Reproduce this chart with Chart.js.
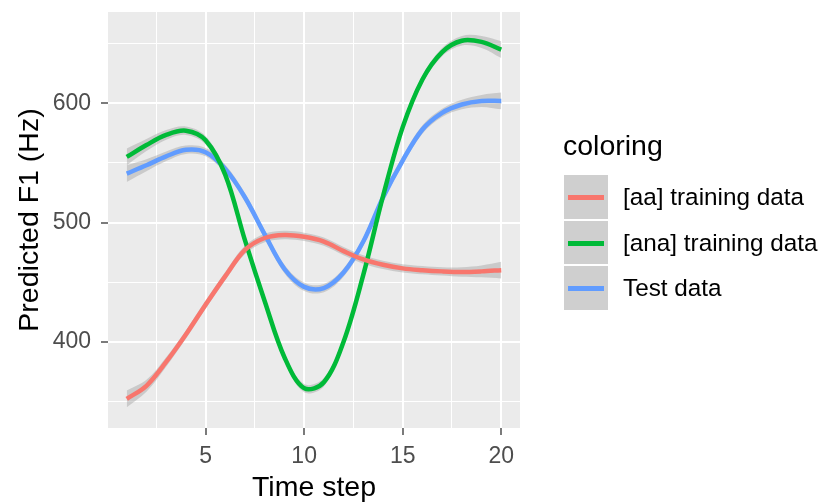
<!DOCTYPE html>
<html lang="en">
  <head>
    <meta charset="utf-8" />
    <title>Predicted F1 by time step</title>
    <style>
      body { margin: 0; background: #ffffff; }
      .wrap {
        position: relative;
        width: 822px;
        height: 503px;
        font-family: "Liberation Sans", Arial, sans-serif;
      }
      .chartBox { position: absolute; left: 0; top: 0; width: 822px; height: 503px; }
      .legendTitle {
        position: absolute;
        left: 563px;
        top: 131px;
        font-size: 28.5px;
        line-height: 1;
        color: #000000;
      }
      .legendRow {
        position: absolute;
        left: 563px;
        height: 45.5px;
        width: 260px;
      }
      .legendKey {
        position: absolute;
        left: 0;
        top: 0;
        width: 46px;
        height: 45.5px;
        background: #cfcfcf;
        box-sizing: border-box;
        border: 1px solid #ffffff;
      }
      .legendKey span {
        position: absolute;
        left: 4px;
        right: 4px;
        top: 20px;
        height: 5px;
      }
      .legendText {
        position: absolute;
        left: 60px;
        top: 0;
        font-size: 24.3px;
        line-height: 45.5px;
        color: #000000;
        white-space: nowrap;
      }
    </style>
  </head>
  <body>
    <div class="wrap">
      <div class="chartBox">
        <canvas id="myChart"></canvas>
      </div>
      <div class="legendTitle">coloring</div>
      <div id="legend"></div>
    </div>
    <script src="https://cdn.jsdelivr.net/npm/chart.js"></script>
    <script>
      // values
      const timeSteps = [1, 2, 3, 4, 5, 6, 7, 8, 9, 10, 11, 12, 13, 14, 15, 16, 17, 18, 19, 20];
      const aaTraining = [352, 363, 383, 406, 431, 455, 477, 487, 489.5, 488, 484, 476, 469, 464.5, 461.5, 460, 459, 458.5, 459, 460];
      const anaTraining = [555, 565, 573.5, 577, 569, 540, 485, 434, 387, 361, 366, 400, 456, 522, 580, 620, 643, 652.5, 651.5, 645];
      const testData = [541, 548, 555.5, 561, 559, 545, 521, 490, 461, 446, 445, 458, 484, 521, 552, 578, 592, 599, 602, 602];
      // half width of the grey confidence band
      const seAa = [7, 5, 4, 3.5, 3.5, 3.5, 3.5, 3.5, 3.5, 3.5, 3.5, 3.5, 3.5, 3.5, 3.5, 3.5, 3.5, 4, 5, 7];
      const seAna = [7, 5, 4, 3.5, 3.5, 3.5, 3.5, 3.5, 3.5, 3.5, 3.5, 3.5, 3.5, 3.5, 3.5, 3.5, 3.5, 4, 5, 7];
      const seTest = [7, 5, 4, 3.5, 3.5, 3.5, 3.5, 3.5, 3.5, 3.5, 3.5, 3.5, 3.5, 3.5, 3.5, 3.5, 3.5, 4, 5, 7];

      const seriesNames = ["[aa] training data", "[ana] training data", "Test data"];
      const seriesColors = ["#F8766D", "#00BA38", "#619CFF"];
      const seriesValues = [aaTraining, anaTraining, testData];
      const seriesSe = [seAa, seAna, seTest];

      const xTicks = [2.5, 5, 7.5, 10, 12.5, 15, 17.5, 20];
      const xLabels = [5, 10, 15, 20];
      const yTicks = [350, 400, 450, 500, 550, 600, 650];
      const yLabels = [400, 500, 600];

      const datasets = [];
      for (let s = 0; s < seriesValues.length; s++) {
        const vals = seriesValues[s];
        const se = seriesSe[s];
        datasets.push({
          label: seriesNames[s] + " lower",
          data: vals.map((v, i) => ({ x: timeSteps[i], y: v - se[i] })),
          borderWidth: 0,
          pointRadius: 0,
          fill: false,
          tension: 0.35,
          order: 1,
        });
        datasets.push({
          label: seriesNames[s] + " upper",
          data: vals.map((v, i) => ({ x: timeSteps[i], y: v + se[i] })),
          borderWidth: 0,
          pointRadius: 0,
          fill: "-1",
          backgroundColor: "rgba(153, 153, 153, 0.4)",
          tension: 0.35,
          order: 1,
        });
      }
      for (let s = 0; s < seriesValues.length; s++) {
        datasets.push({
          label: seriesNames[s],
          data: seriesValues[s].map((v, i) => ({ x: timeSteps[i], y: v })),
          borderColor: seriesColors[s],
          borderWidth: 4.5,
          pointRadius: 0,
          fill: false,
          tension: 0.35,
          order: 0,
        });
      }

      const panelBackground = {
        id: "panelBackground",
        beforeDraw(chart) {
          const { ctx, chartArea } = chart;
          ctx.save();
          ctx.fillStyle = "#EBEBEB";
          ctx.fillRect(chartArea.left, chartArea.top, chartArea.right - chartArea.left, chartArea.bottom - chartArea.top);
          ctx.restore();
        },
      };

      const tickFont = { family: "'Liberation Sans', Arial, sans-serif", size: 23 };
      const titleFont = { family: "'Liberation Sans', Arial, sans-serif", size: 28.5, lineHeight: 1 };

      function noScalePadding(scale) {
        scale.paddingTop = 0;
        scale.paddingBottom = 0;
        scale.paddingLeft = 0;
        scale.paddingRight = 0;
      }

      const config = {
        type: "line",
        data: { datasets },
        plugins: [panelBackground],
        options: {
          responsive: true,
          maintainAspectRatio: false,
          animation: false,
          layout: { padding: { left: 0, top: 12, right: 302, bottom: 0 } },
          plugins: {
            legend: { display: false },
            tooltip: { enabled: false },
          },
          scales: {
            x: {
              type: "linear",
              min: 0.05,
              max: 20.95,
              afterBuildTicks: (scale) => {
                scale.ticks = xTicks.map((v) => ({ value: v }));
              },
              afterFit: (scale) => {
                scale.height = 75;
                noScalePadding(scale);
              },
              ticks: {
                autoSkip: false,
                maxRotation: 0,
                padding: 8,
                color: "#4D4D4D",
                font: tickFont,
                callback: (value) => (xLabels.includes(value) ? String(value) : ""),
              },
              grid: {
                color: "#FFFFFF",
                lineWidth: (ctx) => (ctx.tick && xLabels.includes(ctx.tick.value) ? 2 : 1),
                tickLength: 7,
                tickWidth: 1.3,
                tickColor: (ctx) => (ctx.tick && xLabels.includes(ctx.tick.value) ? "#333333" : "rgba(0,0,0,0)"),
              },
              border: { display: false },
              title: {
                display: true,
                text: "Time step",
                color: "#000000",
                font: titleFont,
                padding: { top: 0, bottom: 1 },
              },
            },
            y: {
              type: "linear",
              min: 327.6,
              max: 676.6,
              afterBuildTicks: (scale) => {
                scale.ticks = yTicks.map((v) => ({ value: v }));
              },
              afterFit: (scale) => {
                scale.width = 108;
                noScalePadding(scale);
              },
              ticks: {
                autoSkip: false,
                padding: 10,
                color: "#4D4D4D",
                font: tickFont,
                callback: (value) => (yLabels.includes(value) ? String(value) : ""),
              },
              grid: {
                color: "#FFFFFF",
                lineWidth: (ctx) => (ctx.tick && yLabels.includes(ctx.tick.value) ? 2 : 1),
                tickLength: 7,
                tickWidth: 1.3,
                tickColor: (ctx) => (ctx.tick && yLabels.includes(ctx.tick.value) ? "#333333" : "rgba(0,0,0,0)"),
              },
              border: { display: false },
              title: {
                display: true,
                text: "Predicted F1 (Hz)",
                color: "#000000",
                font: titleFont,
                padding: { top: 16, bottom: 0 },
              },
            },
          },
        },
      };

      const myChart = new Chart(document.getElementById("myChart"), config);

      // ggplot style legend at the right
      const legend = document.getElementById("legend");
      for (let s = 0; s < seriesNames.length; s++) {
        const row = document.createElement("div");
        row.className = "legendRow";
        row.style.top = 174 + s * 45.5 + "px";
        row.innerHTML =
          '<div class="legendKey"><span style="background:' + seriesColors[s] + '"></span></div>' +
          '<div class="legendText">' + seriesNames[s] + "</div>";
        legend.appendChild(row);
      }
    </script>
  </body>
</html>
